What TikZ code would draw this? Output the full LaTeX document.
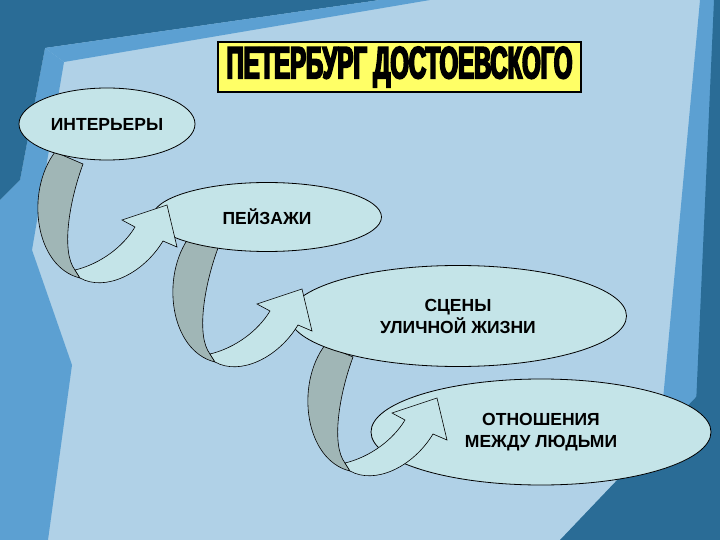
\documentclass[tikz,border=0pt]{standalone}
\usepackage{fontspec}
\setmainfont{Liberation Sans}
\newfontfamily\titlefont[FakeStretch=0.53,FakeBold=4]{Liberation Sans}
\usepackage{tikz}
\usetikzlibrary{shapes.geometric}
\usetikzlibrary{calc}

\definecolor{bglight}{RGB}{176,209,231}
\definecolor{bgdark}{RGB}{42,108,150}
\definecolor{bgmid}{RGB}{92,160,210}
\definecolor{paleteal}{RGB}{196,228,232}
\definecolor{foldgray}{RGB}{160,182,182}
\definecolor{titleyellow}{RGB}{255,255,102}

\tikzset{
	stage/.style={ellipse, draw=black, fill=paleteal, line width=0.8pt, inner sep=0pt,
		align=center, font=\fontsize{17.5}{22}\selectfont\bfseries},
	titlebox/.style={rectangle, draw=black, fill=titleyellow, line width=2.2pt, inner sep=0pt,
		font=\titlefont\fontsize{45}{45}\selectfont\bfseries},
	backface/.style={fill=foldgray, draw=black, line width=0.6pt},
	frontface/.style={fill=paleteal, draw=black, line width=0.6pt},
	uturn/.pic={
		\draw[backface] (0,0) -- (28,12) .. controls (14,50) and (6,100) .. (20,118)
			-- (25,126) .. controls (-20,115) and (-30,40) .. (0,0) -- cycle;
		\draw[frontface] (20,118) .. controls (45,112) and (68,95) .. (80,75)
			-- (67,68) -- (112,53) -- (122,95) -- (108,89)
			.. controls (88,122) and (50,140) .. (25,126) -- cycle;
	}
}

\begin{document}
\begin{tikzpicture}[x=1pt,y=-1pt]
	\useasboundingbox (0,0) rectangle (720,540);
	% background
	\fill[bglight] (0,0) rectangle (720,540);
	\fill[bgmid] (0,200) -- (20,180) -- (45,48) -- (64,62) -- (32,250) -- (72,365) -- (48,540) -- (0,540) -- cycle;
	\fill[bgdark] (0,0) -- (380,0) -- (45,48) -- (20,180) -- (0,200) -- cycle;
	\fill[bgmid] (45,48) -- (380,0) -- (430,0) -- (64,62) -- cycle;
	\fill[bgmid] (700,0) -- (720,0) -- (720,540) -- (650,540) -- cycle;
	\fill[bgdark] (714,0) -- (720,0) -- (720,540) -- (690,540) -- cycle;
	\fill[bgdark] (560,540) -- (720,372) -- (720,540) -- cycle;

	\node[titlebox, minimum width=363, minimum height=50] (title) at (399.5,67) {ПЕТЕРБУРГ ДОСТОЕВСКОГО};

	\node[stage, minimum width=340, minimum height=106] (relations) at (541,432) {ОТНОШЕНИЯ\\МЕЖДУ ЛЮДЬМИ};
	\pic at ($(relations.center)+(-216,-87)$) {uturn};
	\node[stage, minimum width=337, minimum height=101] (streetscenes) at (458,316) {СЦЕНЫ\\УЛИЧНОЙ ЖИЗНИ};
	\pic at ($(streetscenes.center)+(-268,-80)$) {uturn};
	\node[stage, minimum width=229, minimum height=69] (landscapes) at (267,217) {ПЕЙЗАЖИ};
	\pic at ($(landscapes.center)+(-212,-65)$) {uturn};
	\node[stage, minimum width=176, minimum height=72] (interiors) at (107,124) {ИНТЕРЬЕРЫ};
\end{tikzpicture}
\end{document}
